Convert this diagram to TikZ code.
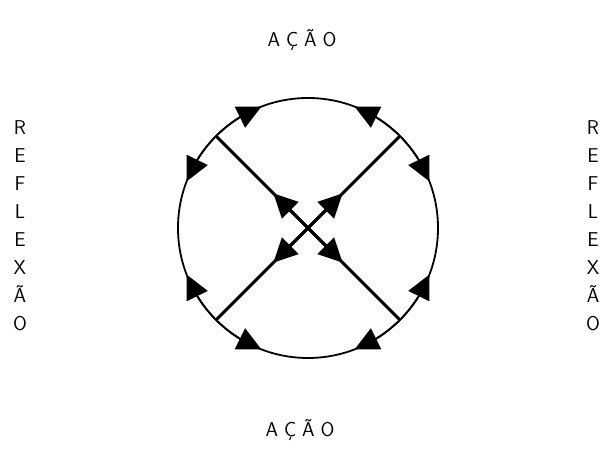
\documentclass[tikz,border=0pt]{standalone}
\usepackage{fontspec}
\usetikzlibrary{arrows.meta,bending}
\newcommand\ks{\kern6pt}

\begin{document}
\begin{tikzpicture}[x=1pt, y=1pt,
      rotulo/.style={font=\sffamily\fontsize{20}{28}\selectfont},
      coluna/.style={font=\sffamily\fontsize{20}{28}\selectfont, align=center, inner sep=0pt},
      ciclo/.style={circle, draw, line width=1.8pt, minimum size=260pt, inner sep=0pt, outer sep=0pt},
      diagonal/.style={line width=3pt},
      seta/.style={-{Triangle[length=24pt, width=23pt]}, line width=1.8pt}
    ]
      \useasboundingbox (0,0) rectangle (607,454);

      \node[ciclo] (roda) at (308,226) {};

      % diagonais que se cruzam no centro
      \draw[diagonal] (roda.135) -- (roda.315);
      \draw[diagonal] (roda.45) -- (roda.225);
      \foreach \a in {45,135,225,315}
        \draw[seta, line width=3pt] (roda.center) -- ++(\a:49pt);

      % setas sobre o circulo
      \foreach \a/\b in {135/111, 135/159, 45/69, 45/21, 225/201, 225/249, 315/291, 315/339}
        \draw[seta] (roda.\a) arc[start angle=\a, end angle=\b, radius=130pt];

      \node[rotulo] (acaotopo) at (302,414) {A\ks Ç\ks Ã\ks O};
      \node[rotulo] (acaobase) at (300,24) {A\ks Ç\ks Ã\ks O};
      \node[coluna] (reflesq) at (20,228) {R\\E\\F\\L\\E\\X\\Ã\\O};
      \node[coluna] (refldir) at (593,228) {R\\E\\F\\L\\E\\X\\Ã\\O};
    \end{tikzpicture}
\end{document}
